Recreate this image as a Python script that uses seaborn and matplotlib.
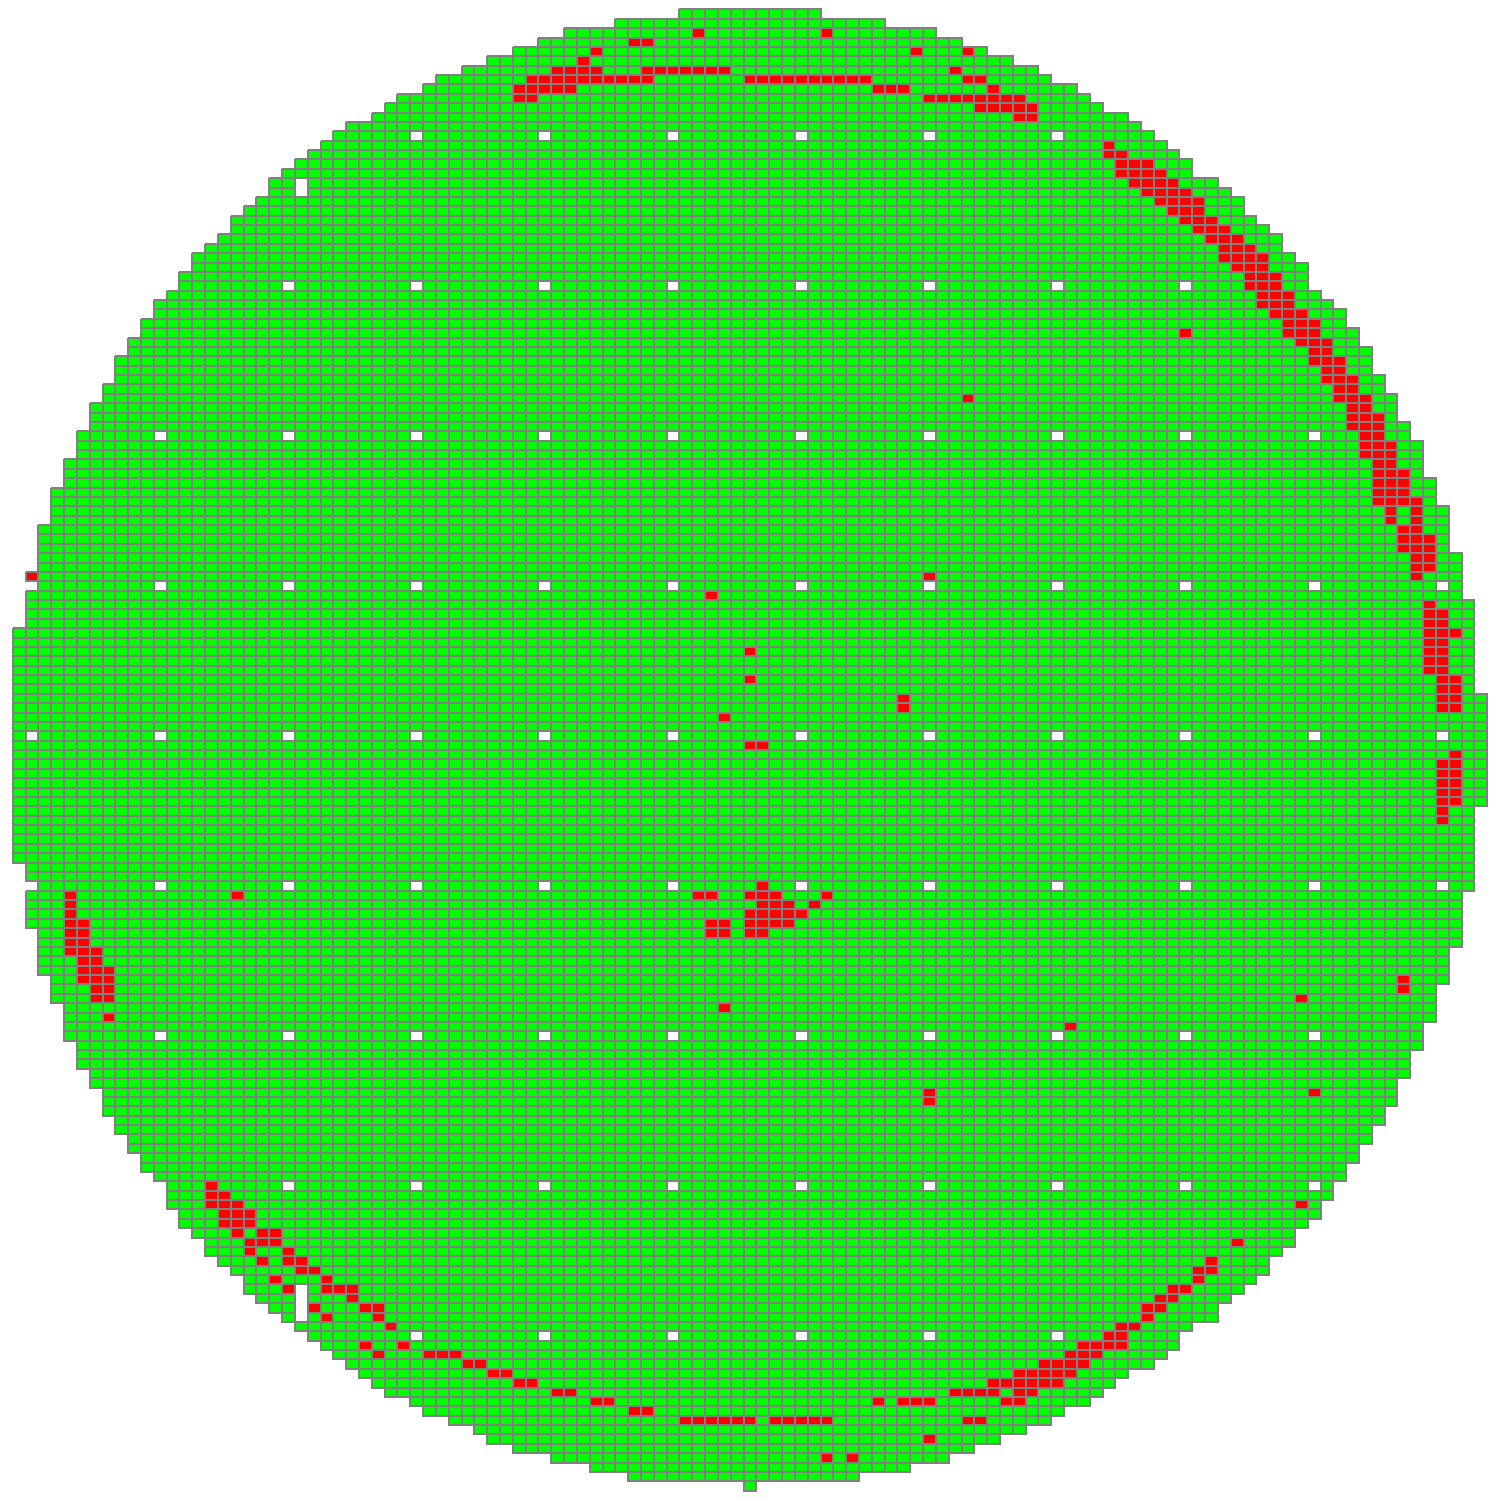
import numpy as np
import matplotlib
matplotlib.use("Agg")
import matplotlib.pyplot as plt
from matplotlib.colors import ListedColormap, to_rgba
import seaborn as sns

# wafer map: 158 rows x 115 columns of dies
n_rows, n_cols = 158, 115

# first / last die column present in each row (top to bottom)
row_first = [52, 47, 43, 41, 39, 37, 35, 33, 32, 30,
             29, 28, 26, 25, 24, 23, 22, 21, 20, 20,
             19, 18, 17, 17, 16, 15, 14, 14, 13, 13,
             12, 11, 11, 10, 10, 9, 9, 8, 8, 8,
             7, 7, 6, 6, 6, 5, 5, 5, 4, 4,
             4, 3, 3, 3, 3, 2, 2, 2, 2, 2,
             1, 1, 1, 1, 1, 1, 0, 0, 0, 0,
             0, 0, 0, 0, 0, 0, 0, 0, 0, 0,
             0, 0, 0, 0, 0, 0, 0, 0, 0, 0,
             0, 1, 1, 1, 1, 1, 1, 1, 2, 2,
             2, 2, 2, 3, 3, 3, 4, 4, 4, 4,
             5, 5, 5, 6, 6, 7, 7, 7, 8, 8,
             9, 9, 10, 10, 11, 12, 12, 12, 13, 13,
             14, 15, 15, 16, 17, 18, 18, 19, 20, 21,
             22, 23, 24, 25, 26, 27, 28, 29, 31, 32,
             34, 36, 37, 39, 42, 45, 48, 57]

row_last = [62, 67, 71, 73, 75, 77, 79, 80, 82, 83,
            84, 86, 87, 88, 89, 90, 91, 91, 93, 94,
            95, 95, 96, 97, 98, 98, 99, 100, 100, 100,
            101, 102, 103, 103, 104, 104, 105, 105, 105, 106,
            106, 107, 107, 107, 108, 108, 109, 109, 109, 109,
            110, 110, 110, 111, 111, 111, 111, 111, 112, 112,
            112, 112, 112, 113, 113, 113, 113, 113, 113, 113,
            113, 113, 113, 114, 114, 114, 114, 114, 114, 114,
            114, 114, 114, 114, 114, 113, 113, 113, 113, 113,
            113, 113, 113, 113, 112, 112, 112, 112, 112, 112,
            111, 111, 111, 111, 110, 110, 110, 110, 109, 109,
            109, 108, 108, 108, 107, 107, 107, 106, 106, 105,
            105, 104, 104, 103, 103, 102, 102, 101, 101, 100,
            99, 99, 98, 97, 97, 96, 95, 94, 93, 93,
            91, 90, 90, 89, 88, 86, 85, 84, 83, 81,
            80, 78, 76, 74, 72, 69, 65, 57]

# reference dies left empty
hole_rows = [13, 29, 45, 61, 77, 93, 109, 125, 141]
hole_cols = [1, 11, 21, 31, 41, 51, 61, 71, 81, 91, 101, 111]
blank_cells = [(18, 22), (19, 22), (136, 22), (137, 22), (138, 22), (139, 22)]

# failing dies as (row, first col, last col)
fail_runs = [
    (2, 53, 53), (2, 63, 63), (3, 48, 49), (4, 45, 45), (4, 70, 70), (4, 74, 74),
    (5, 44, 44), (6, 42, 45), (6, 49, 55), (6, 73, 73),
    (7, 40, 49), (7, 57, 66), (7, 74, 75), (8, 39, 43), (8, 67, 69), (8, 76, 76),
    (9, 39, 40), (9, 71, 78), (10, 75, 79), (11, 78, 79),
    (14, 85, 85), (15, 85, 86), (16, 86, 88), (17, 86, 89), (18, 87, 90),
    (19, 88, 91), (20, 89, 92), (21, 90, 92), (22, 91, 93), (23, 92, 94),
    (24, 93, 95), (25, 94, 96), (26, 94, 97), (27, 95, 97), (28, 96, 98),
    (29, 96, 98), (30, 97, 99), (31, 97, 99), (32, 98, 100), (33, 99, 101),
    (34, 91, 91), (34, 99, 101), (35, 100, 102), (36, 101, 102), (37, 101, 103),
    (38, 102, 103), (39, 102, 104), (40, 103, 104), (41, 74, 74), (41, 103, 105),
    (42, 104, 105), (43, 104, 106), (44, 104, 106), (45, 105, 106), (46, 105, 107),
    (47, 105, 107), (48, 106, 107), (49, 106, 108), (50, 106, 108), (51, 106, 108),
    (52, 106, 109), (53, 107, 107), (53, 109, 109), (54, 107, 107), (54, 109, 109),
    (55, 108, 109), (56, 108, 110), (57, 108, 110), (58, 109, 110), (59, 109, 110),
    (60, 1, 1), (60, 71, 71), (60, 109, 109), (62, 54, 54), (63, 110, 110),
    (64, 110, 111), (65, 110, 111), (66, 110, 112), (67, 110, 111), (68, 57, 57),
    (68, 110, 111), (69, 110, 111), (70, 110, 111), (71, 57, 57), (71, 111, 112),
    (72, 111, 112), (73, 69, 69), (73, 111, 112), (74, 69, 69), (74, 111, 112),
    (75, 55, 55), (78, 57, 58), (79, 112, 112), (80, 111, 112), (81, 111, 112),
    (82, 111, 112), (83, 111, 112), (84, 111, 112), (85, 111, 111), (86, 111, 111),
    (93, 58, 58), (94, 4, 4), (94, 17, 17), (94, 53, 54), (94, 57, 59), (94, 63, 63),
    (95, 4, 4), (95, 58, 60), (95, 62, 62), (96, 4, 4), (96, 57, 61),
    (97, 4, 5), (97, 54, 55), (97, 57, 60), (98, 4, 5), (98, 54, 55), (98, 57, 58),
    (99, 4, 5), (100, 4, 6), (101, 5, 6), (102, 5, 7), (103, 5, 7), (103, 108, 108),
    (104, 6, 7), (104, 108, 108), (105, 6, 7), (105, 100, 100), (106, 55, 55),
    (107, 7, 7), (108, 82, 82), (115, 71, 71), (115, 101, 101), (116, 71, 71),
    (125, 15, 15), (126, 15, 16), (127, 15, 17), (127, 100, 100), (128, 16, 18),
    (129, 16, 18), (130, 17, 17), (130, 19, 20), (131, 18, 20), (131, 95, 95),
    (132, 18, 18), (132, 21, 21), (133, 19, 19), (133, 21, 22), (133, 93, 93),
    (134, 22, 23), (134, 92, 93), (135, 20, 20), (135, 24, 24), (135, 92, 92),
    (136, 21, 21), (136, 24, 26), (136, 90, 91), (137, 26, 26), (137, 89, 90),
    (138, 23, 23), (138, 27, 28), (138, 88, 89), (139, 24, 24), (139, 28, 28),
    (139, 88, 88), (140, 29, 29), (140, 86, 87), (141, 85, 86), (142, 27, 27),
    (142, 30, 30), (142, 83, 86), (143, 28, 28), (143, 32, 34), (143, 82, 84),
    (144, 35, 36), (144, 80, 83), (145, 37, 38), (145, 78, 82), (146, 39, 40),
    (146, 76, 81), (147, 42, 43), (147, 73, 76), (147, 78, 79), (148, 45, 46),
    (148, 67, 67), (148, 69, 71), (148, 77, 78), (149, 48, 49), (150, 52, 57),
    (150, 59, 63), (150, 74, 75), (152, 71, 71), (154, 63, 63), (154, 65, 65),
]

assert len(row_first) == n_rows and len(row_last) == n_rows

# 0 = pass, 1 = fail, nan = no die
grid = np.full((n_rows, n_cols), np.nan)
for r, (c0, c1) in enumerate(zip(row_first, row_last)):
    grid[r, c0:c1 + 1] = 0
for r in hole_rows:
    for c in hole_cols:
        grid[r, c] = np.nan
for r, c in blank_cells:
    grid[r, c] = np.nan
for r, c0, c1 in fail_runs:
    grid[r, c0:c1 + 1] = 1

fig = plt.figure(figsize=(15, 15), dpi=100)
ax = fig.add_axes([0, 0, 1, 1])
sns.heatmap(grid, cmap=ListedColormap(["#00ff00", "#ff0000"]), vmin=0, vmax=1,
            cbar=False, linewidths=1.4, linecolor="#808080",
            xticklabels=False, yticklabels=False, ax=ax)

# no outline for empty positions, only for real dies
mesh = ax.collections[0]
edge = np.zeros((n_rows * n_cols, 4))
edge[~np.isnan(grid).ravel()] = to_rgba("#808080")
mesh.set_edgecolors(edge)

ax.set_xlim(-1, n_cols + 1)
ax.set_ylim(n_rows + 1, -1)
ax.axis("off")
fig.savefig("out.png", dpi=100)
